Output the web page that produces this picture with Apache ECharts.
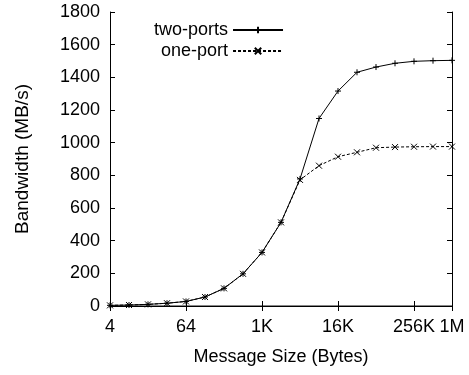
<!DOCTYPE html>
<html>
<head>
<meta charset="utf-8">
<script src="https://cdn.jsdelivr.net/npm/echarts@6/dist/echarts.min.js"></script>
<style>
  html, body { margin: 0; padding: 0; background: #fff; }
  #chart { width: 469px; height: 375px; }
</style>
</head>
<body>
<div id="chart"></div>
<script>
// message sizes in bytes, 4 .. 1M
let sizes = [4, 8, 16, 32, 64, 128, 256, 512, 1024, 2048, 4096, 8192, 16384,
             32768, 65536, 131072, 262144, 524288, 1048576];
let twoPorts = [4, 6, 10, 17, 28, 55, 108, 197, 328, 512, 778, 1148, 1316,
                1431, 1463, 1486, 1498, 1502, 1504];
let onePort = [4, 6, 10, 17, 28, 55, 108, 197, 328, 512, 772, 859, 914,
               941, 969, 973, 975, 976, 976];
let xTickValues = [4, 64, 1024, 16384, 262144, 1048576];
let xTickLabels = ['4', '64', '1K', '16K', '256K', '1M'];

let font = 'Liberation Sans, Arial, sans-serif';
let plusPath = 'path://M0,5L10,5M5,0L5,10';
let crossPath = 'path://M0,0L10,10M10,0L0,10';

function pairs(values) {
  return sizes.map(function (s, i) {
    return [s, values[i]];
  });
}

function xLabel(v) {
  let idx = xTickValues.indexOf(Math.round(v));
  return idx >= 0 ? xTickLabels[idx] : '';
}

let xBase = {
  type: 'log',
  logBase: 2,
  min: 4,
  max: 1048576,
  splitLine: {show: false},
  axisTick: {inside: true, length: 5, customValues: xTickValues, lineStyle: {color: '#000'}}
};

let yBase = {
  type: 'value',
  min: 0,
  max: 1800,
  interval: 200,
  splitLine: {show: false},
  axisTick: {inside: true, length: 5, lineStyle: {color: '#000'}}
};

let option = {
  animation: false,
  backgroundColor: '#fff',
  textStyle: {fontFamily: font},
  grid: {left: 110, right: 17, top: 12, bottom: 69},
  legend: {
    orient: 'vertical',
    align: 'right',
    left: 149,
    top: 16,
    itemGap: 3,
    itemWidth: 50,
    itemHeight: 8,
    textStyle: {fontFamily: font, fontSize: 18, color: '#000'},
    data: ['two-ports', 'one-port']
  },
  xAxis: [
    Object.assign({}, xBase, {
      position: 'bottom',
      name: 'Message Size (Bytes)',
      nameLocation: 'middle',
      nameGap: 42,
      nameTextStyle: {fontFamily: font, fontSize: 18, color: '#000'},
      axisLine: {lineStyle: {color: '#888', width: 2}},
      axisLabel: {
        customValues: xTickValues,
        formatter: xLabel,
        margin: 12,
        fontFamily: font,
        fontSize: 18,
        color: '#000',
        hideOverlap: false
      }
    }),
    Object.assign({}, xBase, {
      position: 'top',
      axisLine: {lineStyle: {color: '#000', width: 1}},
      axisLabel: {show: false}
    })
  ],
  yAxis: [
    Object.assign({}, yBase, {
      position: 'left',
      name: 'Bandwidth (MB/s)',
      nameLocation: 'middle',
      nameGap: 78,
      nameTextStyle: {fontFamily: font, fontSize: 19, color: '#000'},
      axisLine: {show: true, lineStyle: {color: '#000', width: 1}},
      axisLabel: {
        margin: 10,
        fontFamily: font,
        fontSize: 18,
        color: '#000',
        formatter: function (v) { return String(v); }
      }
    }),
    Object.assign({}, yBase, {
      position: 'right',
      axisLine: {show: true, lineStyle: {color: '#000', width: 1}},
      axisLabel: {show: false}
    })
  ],
  series: [
    {
      name: 'two-ports',
      type: 'line',
      data: pairs(twoPorts),
      symbol: plusPath,
      symbolSize: 6,
      showAllSymbol: true,
      lineStyle: {color: '#000', width: 1},
      itemStyle: {color: '#000', borderColor: '#000', borderWidth: 1}
    },
    {
      name: 'one-port',
      type: 'line',
      data: pairs(onePort),
      symbol: crossPath,
      symbolSize: 6,
      showAllSymbol: true,
      lineStyle: {color: '#000', width: 1, type: [3, 2]},
      itemStyle: {color: '#000', borderColor: '#000', borderWidth: 1}
    }
  ]
};

let myChart = echarts.init(document.getElementById('chart'), null, {renderer: 'canvas'});
myChart.setOption(option);
</script>
</body>
</html>
